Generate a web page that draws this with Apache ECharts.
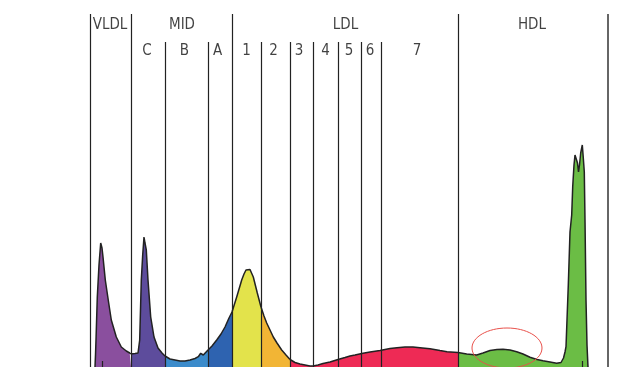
<!DOCTYPE html>
<html><head><meta charset="utf-8">
<script src="https://cdn.jsdelivr.net/npm/echarts@6/dist/echarts.min.js"></script>
<style>html,body{margin:0;padding:0;background:#fff}#c{width:640px;height:367px}</style>
</head><body><div id="c"></div>
<script>
// Electrophoretic mobility (relative units) and intensity read from the profile
const profileX = [5,5.5,6,7.3,9,10.7,12,13,15.3,18.7,21.3,26.3,31.3,36.3,39.7,41,
  45,48,49.7,51.3,52.7,54,55,56.3,58,60.7,64,68,72,75,
  80,85,90,95,100,105,108.3,110.7,113.3,115,118,
  122,126.7,131,135,139,142,
  146.7,151.7,154,156,158,160,163.3,167.3,171,
  174,176.7,180,183.3,187,191.7,196,200,
  205,210,215,220,223,228,233,240,248,255,260,265,273,280,290,300,307,315,323,330,340,350,357,368,
  376.7,386.7,393,400,407,413,420,426.7,433,440,447,453,460,466.7,471,473.5,475,476,477,478.3,480,481.7,482.7,484,485,486,487.5,488.5,489.5,490.7,492.3,493.3,494.3,495,496,497,498];
const profileY = [0,12,27,70,102,124,119,110,87,64,47,30,20,16,14,13,
  13.5,14,27,87,112,130,124,117,87,50,30,19,14,11,
  8,7,6,6,7,8.5,10.3,13.7,12,14,17,
  21,27,33,40,49,55,
  70,87,93,97,98.5,97.5,90,74,60,
  51,44,37,30,24,17,12,7.5,
  4.5,3,2,1,1,2,3.5,5,7.5,9.5,11,12,13.7,15,16.5,18.5,19.3,20,20,19.3,18.3,16.5,15.3,14.5,
  13,12,14,16.5,17.5,17.7,17,15.3,13,9.7,7.5,6.3,5,3.7,4.5,9,15,20.3,47,82,135,152,180,202,212,212,204,195,202,214,222,209,195,147,67,22,0];

const fractionBounds = [0, 41, 75, 118, 142, 171, 200, 368, 518];
const fractionNames = ['VLDL','MID C','MID B','MID A','LDL 1','LDL 2','LDL 3-7','HDL'];
const majorLines = [0, 41, 142, 368, 518];
const minorLines = [75, 118, 171, 200, 223, 248, 271, 291];
const majorLabels = ['VLDL','MID','LDL','HDL'];
const majorLabelPos = [20, 92, 255.5, 442];
const minorLabels = ['C','B','A','1','2','3','4','5','6','7'];
const minorLabelPos = [57, 94.5, 127.5, 156.5, 183.5, 209, 235.5, 259, 280, 327];
const peakTicks = [12, 492.7];
const highlight = [417, 19];

const colors = ['#8a4f9e','#5d4c9c','#3b8bcb','#2e63b0','#e3e34b','#f2b535','#ee2a55','#6bbd45'];
const YMAX = 367, XMAX = 518, MAJOR_TOP = 353, MINOR_TOP = 325, MAJOR_LBL = 342, MINOR_LBL = 316;
const FONT = '"Liberation Sans Narrow","DejaVu Sans Condensed","Roboto",sans-serif';

const chart = echarts.init(document.getElementById('c'));
const series = fractionNames.map((nm, i) => {
  const pts = [];
  profileX.forEach((x, k) => {
    if (x >= fractionBounds[i] && x <= fractionBounds[i+1]) pts.push([x, profileY[k]]);
  });
  return {
    type: 'line', name: nm, data: pts, symbol: 'none', smooth: false, z: 2,
    lineStyle: {color: '#222', width: 1.5},
    areaStyle: {color: colors[i], opacity: 1},
    silent: true
  };
});

const lineData = [];
majorLines.forEach((x, i) => lineData.push([
  {coord: [x, 0], lineStyle: {color: i === majorLines.length - 1 ? '#666' : '#222', width: i === majorLines.length - 1 ? 2 : 1.2}},
  {coord: [x, MAJOR_TOP]}]));
minorLines.forEach(x => lineData.push([{coord: [x, 0]}, {coord: [x, MINOR_TOP]}]));
peakTicks.forEach(x => lineData.push([{coord: [x, 0]}, {coord: [x, 6]}]));

series.push({
  type: 'line', data: [], symbol: 'none', z: 5,
  markLine: {
    silent: true, symbol: 'none', animation: false,
    label: {show: false},
    lineStyle: {color: '#222', width: 1.2, type: 'solid'},
    data: lineData
  }
});

const labelData = majorLabels.map((t, i) => ({value: [majorLabelPos[i], MAJOR_LBL], name: t}))
  .concat(minorLabels.map((t, i) => ({value: [minorLabelPos[i], MINOR_LBL], name: t})));
series.push({
  type: 'scatter', data: labelData, symbolSize: 0, z: 6, silent: true,
  label: {show: true, position: 'inside', formatter: p => p.name,
    fontFamily: FONT, fontSize: 15, color: '#111'}
});

series.push({
  type: 'custom', z: 7, silent: true, data: [highlight],
  renderItem: (params, api) => {
    const c = api.coord([api.value(0), api.value(1)]);
    const s = api.size([35, 20]);
    return {type: 'ellipse', shape: {cx: c[0], cy: c[1], rx: s[0], ry: s[1]},
      style: {fill: 'none', stroke: '#e8504a', lineWidth: 1}};
  }
});

chart.setOption({
  animation: false,
  grid: {left: 90, right: 32, top: 0, bottom: 0, containLabel: false},
  xAxis: {type: 'value', min: 0, max: XMAX, show: false},
  yAxis: {type: 'value', min: 0, max: YMAX, show: false},
  series: series
});
</script></body></html>
